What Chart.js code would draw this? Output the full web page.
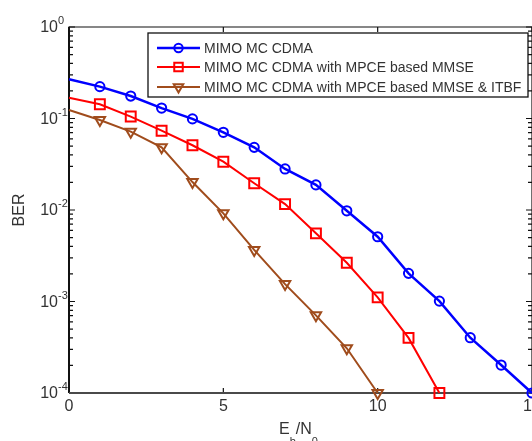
<!DOCTYPE html>
<html>
<head>
<meta charset="utf-8">
<script src="https://cdn.jsdelivr.net/npm/chart.js@4.4.0/dist/chart.umd.min.js"></script>
<style>
  html, body { margin: 0; padding: 0; background: #fff; overflow: hidden; width: 532px; height: 441px; }
  #berChart { position: absolute; left: 0; top: 0; }
</style>
</head>
<body>
<canvas id="berChart" width="548" height="441"></canvas>
<script>
// Eb/N0 values (dB)
const ebno = [0, 1, 2, 3, 4, 5, 6, 7, 8, 9, 10, 11, 12, 13, 14, 15];

// BER curves
const berMcCdma = [0.268, 0.223, 0.176, 0.130, 0.099, 0.0706, 0.0484, 0.0281, 0.0188, 0.0098, 0.0051, 0.00203, 0.00101, 0.000402, 0.000202, 0.0001];
const berMpceMmse = [0.169, 0.143, 0.105, 0.0736, 0.051, 0.0337, 0.0196, 0.0116, 0.00556, 0.00265, 0.00111, 0.0004, 0.0001];
const berMpceMmseItbf = [0.124, 0.0963, 0.0718, 0.0484, 0.0202, 0.0092, 0.00366, 0.00155, 0.000706, 0.000308, 0.0001];

const seriesNames = [
  'MIMO MC CDMA',
  'MIMO MC CDMA with MPCE based MMSE',
  'MIMO MC CDMA with MPCE based MMSE & ITBF'
];

const xTicks = [0, 5, 10, 15];
const yExponents = [0, -1, -2, -3, -4];

const FONT = "'Liberation Sans', Arial, sans-serif";
const TEXT = '#333';

function toPoints(values) {
  return values.map((v, i) => ({ x: ebno[i], y: v }));
}

function makeSet(label, values, color, style, radius, rotation, width) {
  return {
    label,
    data: toPoints(values),
    borderColor: color,
    backgroundColor: color,
    borderWidth: width,
    pointStyle: style,
    pointRotation: rotation,
    pointRadius: (ctx) => (ctx.dataIndex === 0 ? 0 : radius),
    pointBorderWidth: 2,
    pointBorderColor: color,
    pointBackgroundColor: 'rgba(255,255,255,0)',
    tension: 0,
    clip: false,
  };
}

const datasets = [
  makeSet(seriesNames[0], berMcCdma, '#0000ff', 'circle', 4.6, 0, 2.5),
  makeSet(seriesNames[1], berMpceMmse, '#ff0000', 'rect', 7, 0, 2),
  makeSet(seriesNames[2], berMpceMmseItbf, '#a04c1c', 'triangle', 6, 180, 2),
];

// axes box, inward ticks and labels (MATLAB look)
const axesPlugin = {
  id: 'axesBox',
  beforeDatasetsDraw(chart) {
    const { ctx, chartArea: a, scales } = chart;
    const xs = scales.x, ys = scales.y;
    ctx.save();

    // ticks
    ctx.strokeStyle = '#111';
    ctx.lineWidth = 1.2;
    ctx.beginPath();
    xTicks.forEach((t) => {
      const px = xs.getPixelForValue(t);
      ctx.moveTo(px, a.bottom); ctx.lineTo(px, a.bottom - 5);
      ctx.moveTo(px, a.top); ctx.lineTo(px, a.top + 5);
    });
    yExponents.forEach((e) => {
      for (let m = 1; m <= 9; m++) {
        const v = m * Math.pow(10, e);
        if (v > 1.0001 || v < 0.99e-4) continue;
        const py = ys.getPixelForValue(v);
        const len = m === 1 ? 6 : 4;
        ctx.moveTo(a.left, py); ctx.lineTo(a.left + len, py);
        ctx.moveTo(a.right, py); ctx.lineTo(a.right - len, py);
      }
    });
    ctx.stroke();

    // box
    ctx.strokeStyle = '#111';
    ctx.lineWidth = 1.2;
    ctx.beginPath();
    ctx.moveTo(a.left, a.bottom); ctx.lineTo(a.left, a.top); ctx.lineTo(a.right, a.top); ctx.lineTo(a.right, a.bottom);
    ctx.stroke();
    ctx.lineWidth = 2;
    ctx.beginPath();
    ctx.moveTo(a.left, a.top); ctx.lineTo(a.left, a.bottom);
    ctx.stroke();
    ctx.strokeStyle = '#4a4a4a';
    ctx.lineWidth = 2.2;
    ctx.beginPath();
    ctx.moveTo(a.left, a.bottom); ctx.lineTo(a.right, a.bottom);
    ctx.stroke();

    // x tick labels
    ctx.fillStyle = TEXT;
    ctx.font = '16px ' + FONT;
    ctx.textAlign = 'center';
    ctx.textBaseline = 'middle';
    xTicks.forEach((t) => {
      ctx.fillText(String(t), xs.getPixelForValue(t), a.bottom + 14);
    });

    // y tick labels 10^e
    yExponents.forEach((e) => {
      const py = ys.getPixelForValue(Math.pow(10, e));
      ctx.font = '16px ' + FONT;
      ctx.textAlign = 'right';
      ctx.textBaseline = 'middle';
      ctx.fillText('10', a.left - 11, py + 1);
      ctx.font = '11px ' + FONT;
      ctx.textAlign = 'left';
      ctx.fillText(String(e), a.left - 11, py - 6);
    });

    // axis titles
    ctx.font = '16px ' + FONT;
    ctx.textAlign = 'left';
    ctx.textBaseline = 'alphabetic';
    let x = 279;
    const base = 434;
    ctx.fillText('E', x, base); x += ctx.measureText('E').width;
    ctx.font = '11px ' + FONT;
    ctx.fillText('b', x, base + 11); x += ctx.measureText('b').width;
    ctx.font = '16px ' + FONT;
    ctx.fillText('/N', x, base); x += ctx.measureText('/N').width;
    ctx.font = '11px ' + FONT;
    ctx.fillText('0', x, base + 11);

    ctx.save();
    ctx.translate(20, (a.top + a.bottom) / 2);
    ctx.rotate(-Math.PI / 2);
    ctx.font = '16px ' + FONT;
    ctx.textAlign = 'center';
    ctx.textBaseline = 'middle';
    ctx.fillText('BER', 0, 0);
    ctx.restore();

    ctx.restore();
  },
  afterDatasetsDraw(chart) {
    const { ctx } = chart;
    const box = { x: 148, y: 33, w: 380, h: 64 };
    ctx.save();
    ctx.fillStyle = '#fff';
    ctx.fillRect(box.x, box.y, box.w, box.h);
    ctx.strokeStyle = '#111';
    ctx.lineWidth = 1.3;
    ctx.strokeRect(box.x, box.y, box.w, box.h);
    const rows = [48, 67, 87];
    chart.data.datasets.forEach((ds, i) => {
      const y = rows[i];
      ctx.strokeStyle = ds.borderColor;
      ctx.lineWidth = ds.borderWidth;
      ctx.beginPath();
      ctx.moveTo(157, y); ctx.lineTo(200, y);
      ctx.stroke();
      ctx.lineWidth = 2;
      ctx.fillStyle = 'rgba(255,255,255,0)';
      Chart.helpers.drawPoint(ctx, {
        pointStyle: ds.pointStyle,
        rotation: ds.pointRotation,
        radius: ds.pointStyle === 'rect' ? 6 : (ds.pointStyle === 'triangle' ? 5.5 : 4.2),
        borderWidth: 2,
      }, 178.5, y);
      ctx.fillStyle = TEXT;
      ctx.font = '14px ' + FONT;
      ctx.textAlign = 'left';
      ctx.textBaseline = 'middle';
      ctx.fillText(ds.label, 204, y + 1);
    });
    ctx.restore();
  }
};

new Chart(document.getElementById('berChart'), {
  type: 'line',
  data: { datasets },
  options: {
    responsive: false,
    animation: false,
    layout: { padding: { left: 0, top: 27, right: 16, bottom: 0 } },
    plugins: { legend: { display: false }, tooltip: { enabled: false } },
    scales: {
      x: {
        type: 'linear',
        min: 0,
        max: 15,
        grid: { display: false },
        border: { display: false },
        ticks: { display: false },
        afterFit: (s) => { s.height = 48; },
      },
      y: {
        type: 'logarithmic',
        min: 1e-4,
        max: 1,
        grid: { display: false },
        border: { display: false },
        ticks: { display: false },
        afterFit: (s) => { s.width = 69; },
      },
    },
  },
  plugins: [axesPlugin],
});
</script>
</body>
</html>
